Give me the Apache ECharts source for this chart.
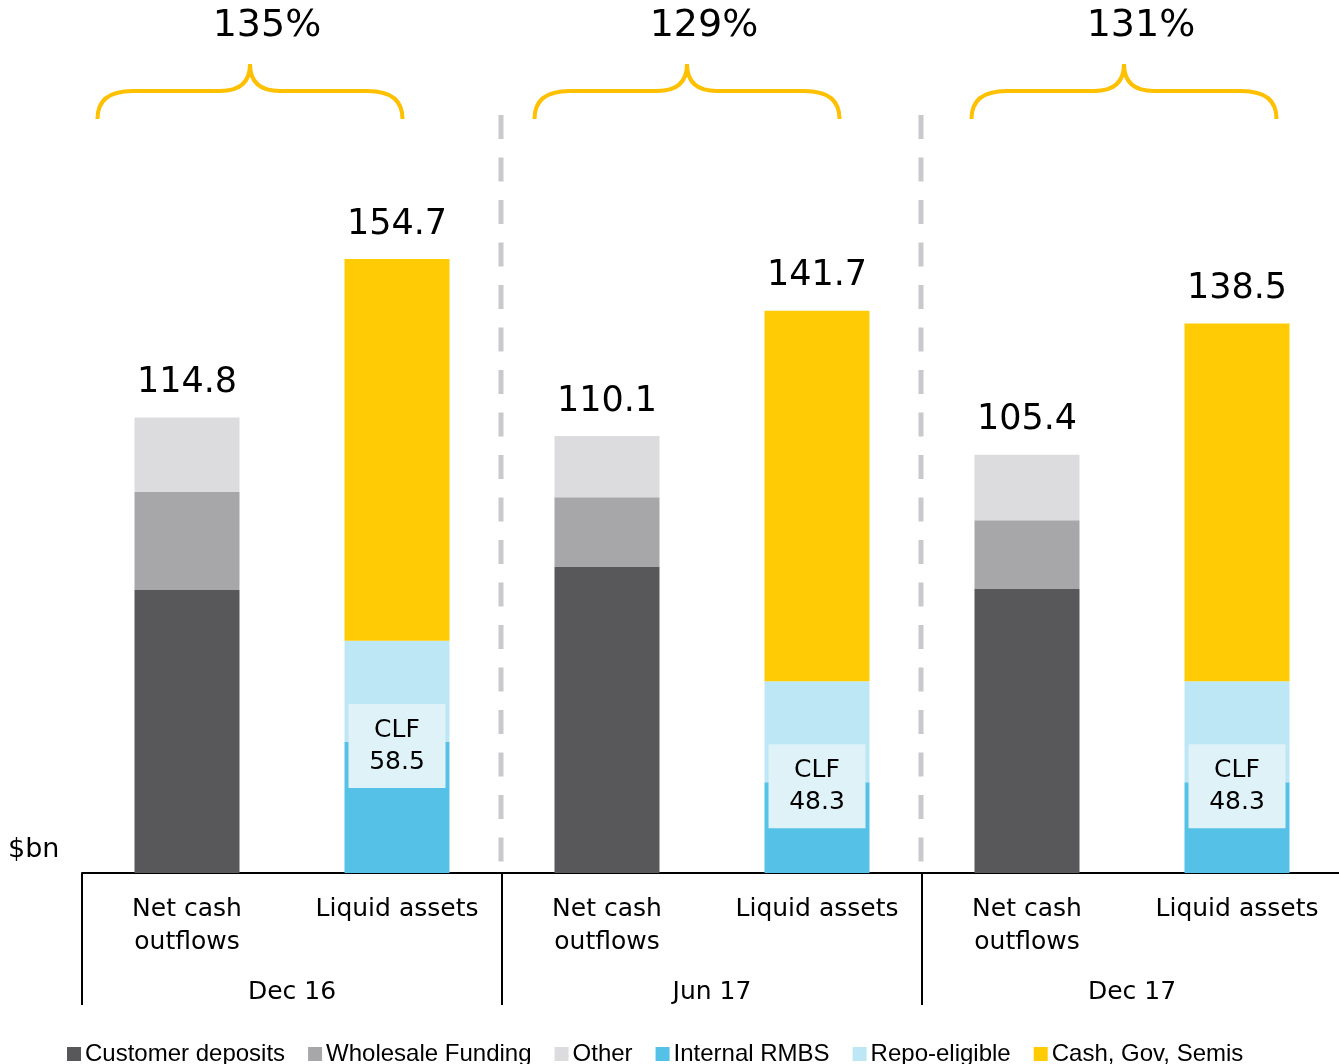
<!DOCTYPE html>
<html>
<head>
<meta charset="utf-8">
<script src="https://cdn.jsdelivr.net/npm/echarts@6/dist/echarts.min.js"></script>
<style>
html,body{margin:0;padding:0;background:#fff;}
#chart{width:1339px;height:1064px;}
</style>
</head>
<body>
<div id="chart"></div>
<script>
// ---- Data ($bn) ----
const periods = ['Dec 16', 'Jun 17', 'Dec 17'];
const barTypes = ['Net cash\noutflows', 'Liquid assets'];
const customerDeposits = [71.3, 77.1, 71.6];
const wholesaleFunding = [24.7, 17.6, 17.3];
const otherOutflows = [18.8, 15.4, 16.5];
const internalRMBS = [33.0, 22.9, 22.9];
const repoEligible = [25.5, 25.4, 25.4];
const cashGovSemis = [96.2, 93.4, 90.2];
const netCashTotals = [114.8, 110.1, 105.4];
const liquidTotals = [154.7, 141.7, 138.5];
const clfValues = [58.5, 48.3, 48.3];
const lcrRatios = ['135%', '129%', '131%'];

// ---- Build the 6-slot category table ----
const categories = [];
periods.forEach(() => barTypes.forEach(t => categories.push(t)));
function toSlots(arr, slot) {
  const out = categories.map(() => '-');
  arr.forEach((v, g) => { out[2 * g + slot] = v; });
  return out;
}

const FONT = '"DejaVu Sans", sans-serif';
const LEGEND_FONT = '"Liberation Sans", Arial, sans-serif';

function barSeries(name, arr, slot, color, extra) {
  return Object.assign({
    name: name, type: 'bar', stack: 'total', barWidth: '50%',
    data: toSlots(arr, slot), itemStyle: { color: color },
    emphasis: { disabled: true }, animation: false
  }, extra || {});
}

const totalLabel = (totals) => ({
  show: true, position: 'top', distance: 17,
  fontFamily: FONT, fontSize: 35, lineHeight: 35, color: '#000',
  formatter: p => totals[Math.floor(p.dataIndex / 2)].toFixed(1)
});

function renderAnnot(params, api) {
  const g = params.dataIndex;
  const p0 = api.coord([2 * g, 0]);
  const p1 = api.coord([2 * g + 1, 0]);
  const band = api.size([1, 0])[0];
  const top = params.coordSys.y;
  const cx = (p0[0] + p1[0]) / 2 - 42 + 17 * g;
  const hw = 152.5;
  const yP = top + 64, yH = top + 91, yE = top + 119;
  const d = 'M' + (cx - hw) + ' ' + yE +
    ' Q' + (cx - hw) + ' ' + yH + ' ' + (cx - hw + 35) + ' ' + yH +
    ' L' + (cx - 30) + ' ' + yH +
    ' Q' + cx + ' ' + yH + ' ' + cx + ' ' + yP +
    ' Q' + cx + ' ' + yH + ' ' + (cx + 30) + ' ' + yH +
    ' L' + (cx + hw - 35) + ' ' + yH +
    ' Q' + (cx + hw) + ' ' + yH + ' ' + (cx + hw) + ' ' + yE;
  const children = [
    { type: 'path', shape: { pathData: d },
      style: { fill: 'none', stroke: '#ffc000', lineWidth: 4 } },
    { type: 'text', x: cx + 17, y: top + 26,
      style: { text: lcrRatios[g], fill: '#000', fontSize: 38, fontFamily: FONT,
               align: 'center', verticalAlign: 'middle' } }
  ];
  if (g > 0) {
    const sx = p0[0] - band / 2 - 1;
    children.push({ type: 'line', shape: { x1: sx, y1: top + 115, x2: sx, y2: top + 863 },
      style: { stroke: '#c9c9cd', lineWidth: 5, lineDash: [24, 18.5] } });
  }
  return { type: 'group', children: children };
}

const chart = echarts.init(document.getElementById('chart'), null, { renderer: 'canvas' });
chart.setOption({
  animation: false,
  backgroundColor: '#fff',
  grid: { left: 82, top: 0, width: 1260, height: 873, outerBoundsMode: 'none', containLabel: false },
  xAxis: [
    {
      type: 'category', data: categories, position: 'bottom',
      axisLine: { show: true, lineStyle: { color: '#000', width: 2 } },
      axisTick: { show: false },
      splitLine: { show: false },
      axisLabel: { interval: 0, margin: 20, fontFamily: FONT, fontSize: 25, lineHeight: 33, color: '#000' }
    },
    {
      type: 'category', data: periods, position: 'bottom',
      axisLine: { show: false },
      axisTick: { show: true, interval: 0, length: 132, lineStyle: { color: '#000', width: 2 } },
      splitLine: { show: false },
      axisLabel: { interval: 0, margin: 104, fontFamily: FONT, fontSize: 25, lineHeight: 30, color: '#000' }
    }
  ],
  yAxis: { type: 'value', min: 0, max: 220, show: false, splitLine: { show: false } },
  legend: {
    data: ['Customer deposits', 'Wholesale Funding', 'Other', 'Internal RMBS', 'Repo-eligible', 'Cash, Gov, Semis'],
    left: 67, top: 1042, padding: 0, icon: 'rect', itemWidth: 14, itemHeight: 14, itemGap: 23,
    textStyle: { fontFamily: LEGEND_FONT, fontSize: 24, color: '#000', padding: [0, 0, 0, -1] },
    selectedMode: false
  },
  graphic: [
    { type: 'text', left: 8, top: 836, style: { text: '$bn', fontFamily: FONT, fontSize: 27, fill: '#000' } }
  ],
  series: [
    barSeries('Customer deposits', customerDeposits, 0, '#58585a'),
    barSeries('Wholesale Funding', wholesaleFunding, 0, '#a7a7a9'),
    barSeries('Other', otherOutflows, 0, '#dcdcde', { label: totalLabel(netCashTotals) }),
    barSeries('Internal RMBS', internalRMBS, 1, '#56c1e7', {
      label: {
        show: true, position: ['50%', 0], offset: [0, 4], align: 'center', verticalAlign: 'middle',
        width: 97, padding: [10, 0], backgroundColor: '#def2f8',
        fontFamily: FONT, fontSize: 25, lineHeight: 32, color: '#000',
        formatter: p => 'CLF\n' + clfValues[Math.floor(p.dataIndex / 2)].toFixed(1)
      }
    }),
    barSeries('Repo-eligible', repoEligible, 1, '#bde7f5'),
    barSeries('Cash, Gov, Semis', cashGovSemis, 1, '#ffcb05', { label: totalLabel(liquidTotals) }),
    {
      type: 'custom', name: 'annotations', renderItem: renderAnnot, silent: true,
      xAxisIndex: 0, yAxisIndex: 0, clip: false, z: 1,
      data: lcrRatios.map((_, g) => [2 * g, 0])
    }
  ]
});
</script>
</body>
</html>
